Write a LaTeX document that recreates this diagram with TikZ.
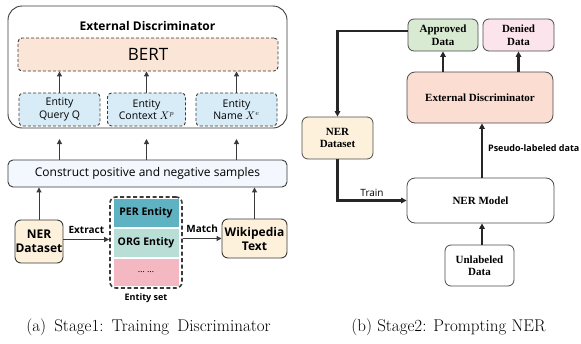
\documentclass[tikz,border=0pt]{standalone}
\usepackage{fontspec}
\usetikzlibrary{arrows.meta}
\newfontfamily\seg{Open Sans}
\newfontfamily\tms{Liberation Serif}
\definecolor{bertfill}{HTML}{FBE5D6}
\definecolor{entfill}{HTML}{D8ECF8}
\definecolor{consfill}{HTML}{F2F8FD}
\definecolor{creamfill}{HTML}{FDF1DC}
\definecolor{perfill}{HTML}{5FB2C2}
\definecolor{orgfill}{HTML}{B9DED6}
\definecolor{dotfill}{HTML}{F4B8C2}
\definecolor{apprfill}{HTML}{D9EAD3}
\definecolor{denfill}{HTML}{FCE4EC}
\definecolor{extfill}{HTML}{FBDDD2}
\definecolor{lgray}{HTML}{3A3A3A}
\tikzset{
  box/.style={draw=lgray, line width=0.9pt, inner sep=0pt, align=center},
  larr/.style={-{Triangle[length=5pt,width=5pt]}, draw=lgray, line width=1pt},
  rarr/.style={-{Triangle[length=5.5pt,width=5.5pt]}, draw=black!85, line width=2.2pt},
  rbox/.style={draw=black!70, line width=0.8pt, rounded corners=6pt, inner sep=0pt, align=center, font=\tms\bfseries\fontsize{11}{12.5}\selectfont},
  dbox/.style={box, dashed, rounded corners=4pt, dash pattern=on 3pt off 2pt},
  lbl/.style={font=\seg\bfseries\fontsize{10}{12}\selectfont, inner sep=0pt},
}
\begin{document}
\begin{tikzpicture}[x=1pt,y=-1pt]
\useasboundingbox (0,0) rectangle (581,343);
% ---------- left panel ----------
\node[box, rounded corners=14pt, minimum width=279pt, minimum height=122pt] (outer) at (147.5,67) {};
\node[font=\seg\bfseries\fontsize{12}{14}\selectfont] (title) at (147.5,26) {External Discriminator};
\node[dbox, fill=bertfill, minimum width=260pt, minimum height=33pt, font=\seg\fontsize{17}{20}\selectfont] (bert) at (148,54.5) {BERT};
\node[dbox, fill=entfill, minimum width=81pt, minimum height=33pt, font=\seg\fontsize{10.5}{12.5}\selectfont] (e1) at (59.5,109.5) {Entity\\Query Q};
\node[dbox, fill=entfill, minimum width=78pt, minimum height=33pt, font=\seg\fontsize{10.5}{12.5}\selectfont] (e2) at (146.5,109.5) {Entity\\Context $X^{p}$};
\node[dbox, fill=entfill, minimum width=81pt, minimum height=33pt, font=\seg\fontsize{10.5}{12.5}\selectfont] (e3) at (236.5,109.5) {Entity\\Name $X^{e}$};
\foreach \e in {e1,e2,e3} \draw[larr] (\e.north) -- (\e.north |- bert.south);
\node[box, fill=consfill, rounded corners=5pt, minimum width=279pt, minimum height=27pt, font=\seg\fontsize{12}{14}\selectfont] (cons) at (147.5,173.5) {Construct positive and negative samples};
\coordinate (c1) at (59.5,139);
\coordinate (c2) at (146.5,139);
\coordinate (c3) at (236.5,139);
\foreach \c in {c1,c2,c3} \draw[larr] (cons.north -| \c) -- (\c);
\node[box, fill=creamfill, rounded corners=6pt, minimum width=48pt, minimum height=43pt, font=\seg\bfseries\fontsize{12}{14}\selectfont] (nerL) at (39,241.5) {NER\\Dataset};
\draw[larr] (nerL.north) -- (nerL.north |- cons.south);
\node[box, dashed, line width=1.6pt, dash pattern=on 4pt off 2.5pt, rounded corners=6pt, minimum width=72pt, minimum height=91pt] (eset) at (146,242.5) {};
\node[inner sep=0pt, fill=perfill, minimum width=65pt, minimum height=28pt, font=\seg\bfseries\fontsize{10.5}{12}\selectfont] (per) at (146,213) {PER Entity};
\node[inner sep=0pt, fill=orgfill, minimum width=65pt, minimum height=28pt, font=\seg\bfseries\fontsize{10.5}{12}\selectfont] (org) at (146,243) {ORG Entity};
\node[inner sep=0pt, fill=dotfill, minimum width=65pt, minimum height=27pt, font=\seg\fontsize{9}{10}\selectfont] (dots) at (146,272) {\dots\ \dots};
\node[lbl, font=\seg\bfseries\fontsize{9}{10}\selectfont] (esetlbl) at (146,298) {Entity set};
\node[box, fill=creamfill, rounded corners=6pt, minimum width=65pt, minimum height=39pt, font=\seg\bfseries\fontsize{12}{14}\selectfont] (wiki) at (254.5,238.5) {Wikipedia\\Text};
\draw[larr] (wiki.north) -- (wiki.north |- cons.south);
\draw[larr] ([yshift=2pt]nerL.east) -- ([yshift=2pt]nerL.east -| eset.west) node[lbl, midway, above=5pt] (extract) {Extract};
\draw[larr] (eset.east |- wiki.west) -- (wiki.west) node[lbl, midway, above=5pt] (match) {Match};
\node[font=\fontsize{17}{19}\selectfont] (capa) at (148.5,327) {(a)\hspace{0.48em}Stage1:\hspace{0.48em}Training\hspace{0.48em}Discriminator};
% ---------- right panel ----------
\node[rbox, fill=apprfill, minimum width=70pt, minimum height=32pt] (appr) at (443,35) {Approved\\Data};
\node[rbox, fill=denfill, minimum width=71pt, minimum height=32pt] (den) at (518.5,35) {Denied\\Data};
\node[rbox, fill=extfill, rounded corners=8pt, minimum width=146pt, minimum height=51pt] (ext) at (480,97.5) {External Discriminator};
\node[rbox, fill=creamfill, minimum width=71pt, minimum height=42pt] (nerR) at (337.5,138) {NER\\Dataset};
\node[rbox, fill=white, rounded corners=8pt, minimum width=147pt, minimum height=45pt] (model) at (480.5,200.5) {NER Model};
\node[rbox, fill=white, minimum width=69pt, minimum height=41pt] (unl) at (479.5,265.5) {Unlabeled\\Data};
\coordinate (pm) at (482,0);
\draw[rarr] (ext.north -| appr.south) -- (appr.south);
\draw[rarr] (ext.north -| den.south) -- (den.south);
\draw[rarr] ([yshift=4pt]appr.west) -| (nerR.north);
\draw[rarr] (nerR.south) |- (model.west) node[pos=0.75, above=3pt, font=\seg\fontsize{10}{12}\selectfont, inner sep=0pt] (train) {Train};
\draw[rarr] (model.north -| pm) -- (ext.south -| pm) node[pos=0.55, right=5pt, font=\seg\bfseries\fontsize{9}{11}\selectfont, inner sep=0pt] (pseudo) {Pseudo-labeled data};
\draw[rarr] (unl.north -| pm) -- (model.south -| pm);
\node[font=\fontsize{17}{19}\selectfont] (capb) at (448.5,327) {(b) Stage2: Prompting NER};
\end{tikzpicture}
\end{document}
